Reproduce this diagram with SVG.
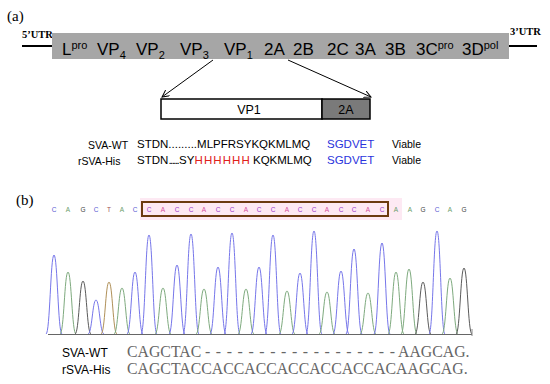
<svg xmlns="http://www.w3.org/2000/svg" width="550" height="384" viewBox="0 0 550 384">
<defs>
<style>
.lbl{font-family:"Liberation Serif",serif;fill:#000}
.seg{font-family:"Liberation Sans",Arial,sans-serif;font-size:17px;fill:#000}
.sm{font-size:11px}
.seq{font-family:"Liberation Sans",Arial,sans-serif;font-size:11.5px;fill:#000}
.nm{font-family:"Liberation Sans",Arial,sans-serif;font-size:10.5px;fill:#000}
.bnm{font-family:"Liberation Sans",Arial,sans-serif;font-size:12px;fill:#000}
.bseq{font-family:"Liberation Serif",serif;font-size:15.8px;fill:#666}
.utr{font-family:"Liberation Serif",serif;font-size:10.5px;font-weight:bold;fill:#000}
.nt{font-family:"Liberation Sans",Arial,sans-serif;font-size:6.5px;text-anchor:middle}
.pk{fill:none;stroke-width:1}
.C{stroke:#7676ea}.A{stroke:#7eaa7e}.G{stroke:#5a5a5a}.T{stroke:#b09058}
.tC{fill:#5a5ad2}.tA{fill:#6aa06a}.tG{fill:#444}.tT{fill:#a05050}
.bC{fill:#9a3acc}.bA{fill:#d2509a}
.blue{fill:#2a34dc}
</style>
<marker id="arr" viewBox="0 0 8 8" refX="7" refY="4" markerWidth="8" markerHeight="8" markerUnits="userSpaceOnUse" orient="auto">
<path d="M0,0.5 L7,4 L0,7.5" fill="none" stroke="#000" stroke-width="1"/>
</marker>
</defs>
<rect width="550" height="384" fill="#fff"/>

<g id="label-a"><text class="lbl" x="7" y="21" font-size="15">(a)</text></g>

<g id="genome">
<line x1="22" y1="46" x2="52" y2="46" stroke="#000" stroke-width="2"/>
<line x1="509" y1="46" x2="537" y2="46" stroke="#000" stroke-width="2"/>
<text class="utr" x="22" y="38">5’UTR</text>
<text class="utr" x="510" y="35">3’UTR</text>
<rect x="52" y="33" width="457" height="26" fill="#a6a6a6"/>
<text class="seg" x="62" y="55">L<tspan class="sm" dy="-6">pro</tspan></text>
<text class="seg" x="97" y="55">VP<tspan class="sm" dy="4">4</tspan></text>
<text class="seg" x="136" y="55">VP<tspan class="sm" dy="4">2</tspan></text>
<text class="seg" x="180" y="55">VP<tspan class="sm" dy="4">3</tspan></text>
<text class="seg" x="224" y="55">VP<tspan class="sm" dy="4">1</tspan></text>
<text class="seg" x="264" y="55">2A</text>
<text class="seg" x="293" y="55">2B</text>
<text class="seg" x="327" y="55">2C</text>
<text class="seg" x="355" y="55">3A</text>
<text class="seg" x="385" y="55">3B</text>
<text class="seg" x="416" y="55">3C<tspan class="sm" dy="-6">pro</tspan></text>
<text class="seg" x="462" y="55">3D<tspan class="sm" dy="-6">pol</tspan></text>
</g>

<g id="connectors">
<line x1="213" y1="60" x2="162" y2="97" stroke="#000" stroke-width="1" marker-end="url(#arr)"/>
<line x1="288" y1="60" x2="371" y2="97" stroke="#000" stroke-width="1" marker-end="url(#arr)"/>
</g>

<g id="vp1-2a">
<rect x="161" y="99" width="161" height="20" fill="#fff" stroke="#000" stroke-width="1.5"/>
<rect x="322" y="99" width="48" height="20" fill="#7a7a7a" stroke="#000" stroke-width="1.5"/>
<text x="249" y="114" font-family="Liberation Sans, Arial, sans-serif" font-size="12.5" text-anchor="middle">VP1</text>
<text x="346" y="114" font-family="Liberation Sans, Arial, sans-serif" font-size="12.5" text-anchor="middle">2A</text>
</g>

<g id="protein-seqs">
<text class="nm" x="88" y="149">SVA-WT</text>
<text class="seq" x="137" y="148">STDN.........MLPFRSYKQKMLMQ</text>
<text class="seq blue" x="327" y="148">SGDVET</text>
<text class="nm" x="392" y="148">Viable</text>
<text class="nm" x="78" y="165">rSVA-His</text>
<text class="seq" y="164"><tspan x="137">STDN</tspan><tspan x="168.5" letter-spacing="-1.6">......</tspan><tspan x="179">SY</tspan><tspan x="194.5" letter-spacing="1.1" style="fill:#e0201a">HHHHHH</tspan><tspan x="253">KQKMLMQ</tspan></text>
<text class="seq blue" x="327" y="164">SGDVET</text>
<text class="nm" x="392" y="164">Viable</text>
</g>

<g id="label-b"><text class="lbl" x="16" y="205" font-size="15">(b)</text></g>

<g id="base-calls">
<rect x="140" y="198" width="262" height="22" fill="#fde9f3"/>
<rect x="142" y="202" width="246" height="14" fill="none" stroke="#6b3a10" stroke-width="2"/>
<text class="nt tC" x="54" y="212">C</text>
<text class="nt tA" x="68" y="212">A</text>
<text class="nt tG" x="83" y="212">G</text>
<text class="nt tC" x="96" y="212">C</text>
<text class="nt tT" x="109" y="212">T</text>
<text class="nt tA" x="122" y="212">A</text>
<text class="nt tC" x="135" y="212">C</text>
<text class="nt bC" x="149" y="212">C</text>
<text class="nt bA" x="163" y="212">A</text>
<text class="nt bC" x="177" y="212">C</text>
<text class="nt bC" x="191" y="212">C</text>
<text class="nt bA" x="204" y="212">A</text>
<text class="nt bC" x="218" y="212">C</text>
<text class="nt bC" x="232" y="212">C</text>
<text class="nt bA" x="246" y="212">A</text>
<text class="nt bC" x="259" y="212">C</text>
<text class="nt bC" x="273" y="212">C</text>
<text class="nt bA" x="287" y="212">A</text>
<text class="nt bC" x="300" y="212">C</text>
<text class="nt bC" x="314" y="212">C</text>
<text class="nt bA" x="327" y="212">A</text>
<text class="nt bC" x="341" y="212">C</text>
<text class="nt bC" x="354" y="212">C</text>
<text class="nt bA" x="368" y="212">A</text>
<text class="nt bC" x="382" y="212">C</text>
<text class="nt tA" x="396" y="212">A</text>
<text class="nt tA" x="410" y="212">A</text>
<text class="nt tG" x="423" y="212">G</text>
<text class="nt tC" x="437" y="212">C</text>
<text class="nt tA" x="450" y="212">A</text>
<text class="nt tG" x="464" y="212">G</text>
</g>

<g id="chromatogram">
<path class="pk C" d="M46,334 C50,334 50.5,255 54,255 C57.5,255 58,334 62,334"/>
<path class="pk A" d="M60,334 C64,334 64.5,272 68,272 C71.5,272 72,334 76,334"/>
<path class="pk G" d="M75,334 C79,334 79.5,281 83,281 C86.5,281 87,334 91,334"/>
<path class="pk C" d="M88,334 C92,334 92.5,300 96,300 C99.5,300 100,334 104,334"/>
<path class="pk T" d="M101,334 C105,334 105.5,282 109,282 C112.5,282 113,334 117,334"/>
<path class="pk A" d="M114,334 C118,334 118.5,288 122,288 C125.5,288 126,334 130,334"/>
<path class="pk C" d="M127,334 C131,334 131.5,272 135,272 C138.5,272 139,334 143,334"/>
<path class="pk C" d="M141,334 C145,334 145.5,235 149,235 C152.5,235 153,334 157,334"/>
<path class="pk A" d="M155,334 C159,334 159.5,288 163,288 C166.5,288 167,334 171,334"/>
<path class="pk C" d="M169,334 C173,334 173.5,265 177,265 C180.5,265 181,334 185,334"/>
<path class="pk C" d="M183,334 C187,334 187.5,234 191,234 C194.5,234 195,334 199,334"/>
<path class="pk A" d="M196,334 C200,334 200.5,289 204,289 C207.5,289 208,334 212,334"/>
<path class="pk C" d="M210,334 C214,334 214.5,267 218,267 C221.5,267 222,334 226,334"/>
<path class="pk C" d="M224,334 C228,334 228.5,233 232,233 C235.5,233 236,334 240,334"/>
<path class="pk A" d="M238,334 C242,334 242.5,289 246,289 C249.5,289 250,334 254,334"/>
<path class="pk C" d="M251,334 C255,334 255.5,267 259,267 C262.5,267 263,334 267,334"/>
<path class="pk C" d="M265,334 C269,334 269.5,235 273,235 C276.5,235 277,334 281,334"/>
<path class="pk A" d="M279,334 C283,334 283.5,291 287,291 C290.5,291 291,334 295,334"/>
<path class="pk C" d="M292,334 C296,334 296.5,273 300,273 C303.5,273 304,334 308,334"/>
<path class="pk C" d="M306,334 C310,334 310.5,231 314,231 C317.5,231 318,334 322,334"/>
<path class="pk A" d="M319,334 C323,334 323.5,292 327,292 C330.5,292 331,334 335,334"/>
<path class="pk C" d="M333,334 C337,334 337.5,271 341,271 C344.5,271 345,334 349,334"/>
<path class="pk C" d="M346,334 C350,334 350.5,249 354,249 C357.5,249 358,334 362,334"/>
<path class="pk A" d="M360,334 C364,334 364.5,293 368,293 C371.5,293 372,334 376,334"/>
<path class="pk C" d="M374,334 C378,334 378.5,243 382,243 C385.5,243 386,334 390,334"/>
<path class="pk A" d="M388,334 C392,334 392.5,272 396,272 C399.5,272 400,334 404,334"/>
<path class="pk A" d="M401,334 C405,334 405.5,269 409,269 C412.5,269 413,334 417,334"/>
<path class="pk G" d="M415,334 C419,334 419.5,282 423,282 C426.5,282 427,334 431,334"/>
<path class="pk C" d="M429,334 C433,334 433.5,231 437,231 C440.5,231 441,334 445,334"/>
<path class="pk A" d="M442,334 C446,334 446.5,278 450,278 C453.5,278 454,334 458,334"/>
<path class="pk G" d="M456,334 C460,334 460.5,268 464,268 C467.5,268 468,334 472,334"/>
<line x1="48" y1="334.5" x2="472" y2="334.5" stroke="#666" stroke-width="1"/>
<line x1="472" y1="329" x2="472" y2="336" stroke="#888" stroke-width="1"/>
</g>

<g id="nt-alignment">
<text class="bnm" x="62" y="357">SVA-WT</text>
<text class="bnm" x="62" y="374">rSVA-His</text>
<text class="bseq" x="127" y="357">CAGCTAC</text>
<text class="bseq" x="205" y="357" textLength="190" lengthAdjust="spacing">------------------</text>
<text class="bseq" x="398" y="357">AAGCAG.</text>
<text class="bseq" x="127" y="374">CAGCTACCACCACCACCACCACCACAAGCAG.</text>
</g>
</svg>
